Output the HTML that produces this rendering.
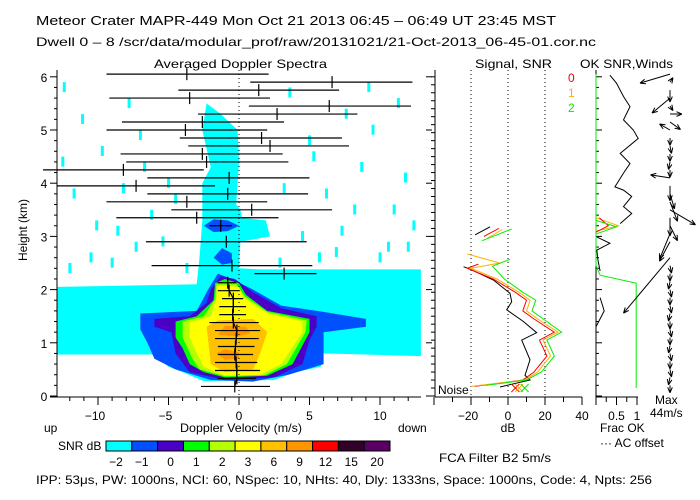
<!DOCTYPE html>
<html><head><meta charset="utf-8"><style>
body{margin:0;background:#fff}
svg{display:block}
text{font-family:"Liberation Sans",sans-serif;font-size:12px;fill:#000}
</style></head><body>
<svg id="c" width="700" height="500" viewBox="0 0 700 500" xmlns="http://www.w3.org/2000/svg">
<text x="36" y="25" style="font-size:13px" textLength="520" lengthAdjust="spacingAndGlyphs">Meteor Crater   MAPR-449   Mon Oct 21 2013 06:45 – 06:49 UT 23:45 MST</text>
<text x="36" y="46" textLength="560" lengthAdjust="spacingAndGlyphs">Dwell  0 –  8   /scr/data/modular_prof/raw/20131021/21-Oct-2013_06-45-01.cor.nc</text>
<text x="154" y="68" textLength="173" lengthAdjust="spacingAndGlyphs">Averaged Doppler Spectra</text>
<text x="475" y="68" textLength="77" lengthAdjust="spacingAndGlyphs">Signal, SNR</text>
<text x="580" y="68" textLength="93" lengthAdjust="spacingAndGlyphs">OK SNR,Winds</text>
<g id="spec"></g>
<g id="sig"></g>
<g id="wnd"></g>
<text x="27" y="230" transform="rotate(-90 27 230)" text-anchor="middle">Height (km)</text>
<text x="180" y="432" textLength="122" lengthAdjust="spacingAndGlyphs">Doppler Velocity (m/s)</text>
<text x="44" y="432">up</text>
<text x="398" y="432">down</text>
<text x="58" y="450">SNR dB</text>
<text x="508" y="432" text-anchor="middle">dB</text>
<text x="600" y="432">Frac OK</text>
<text x="600" y="447">··· AC offset</text>
<text x="655" y="404">Max</text>
<text x="650" y="417">44m/s</text>
<text x="439" y="462" textLength="112" lengthAdjust="spacingAndGlyphs">FCA Filter B2   5m/s</text>
<text x="36" y="484" textLength="616" lengthAdjust="spacingAndGlyphs">IPP:  53μs,   PW: 1000ns,   NCI:  60,   NSpec: 10, NHts: 40,   Dly: 1333ns,   Space: 1000ns,   Code: 4,   Npts: 256</text>
<text x="438" y="394">Noise</text>
<text x="568" y="82" style="fill:#ff0000">0</text>
<text x="568" y="97" style="fill:#ffb000">1</text>
<text x="568" y="112" style="fill:#00ee00">2</text>
<g id="cbar"></g>
</svg>
<script>
// ---------- data ----------
const cbLabels=["-2","-1","0","1","2","3","6","9","12","15","20"];
const cbColors=["#00ffff","#0050ff","#4b00c8","#00ff00","#b4ff00","#ffff00","#ffc000","#ff9600","#ff0000","#320028","#5a0064"];
const velTicks=[-10,-5,0,5,10];
const hTicks=[0,1,2,3,4,5,6];
const dbTicks=[-20,0,20,40];
// spectra moments rows: height, left edge, right edge, mean velocity
const rowH=[6.05,5.9,5.75,5.6,5.45,5.3,5.15,5.0,4.85,4.7,4.55,4.4,4.25,4.1,3.95,3.8,3.65,3.5,3.35,3.2,2.9,2.45,2.3,2.13,1.98,1.83,1.68,1.53,1.38,1.23,1.08,0.93,0.78,0.63,0.48,0.33,0.18];
const rowL=[-9.4,0.8,-4.3,-9.2,0.7,-2.9,-8.3,-9.4,-4.2,-3.6,-8.4,-8.0,-13.9,-6.5,-12.9,-6.5,-9.4,-4.8,-8.7,-2.1,-6.6,-6.2,1.1,-1.5,-1.5,-1.2,-1.4,-1.4,-2.1,-1.7,-1.7,-1.5,-1.5,-1.7,-1.7,-1.5,-2.7];
const rowR=[2.1,12.3,7.1,2.2,12.2,8.4,3.2,2.0,7.3,7.8,3.1,3.5,-2.5,5.0,-1.7,4.9,2.0,6.6,2.8,-0.5,4.8,5.2,5.5,-0.2,0.05,0.3,0.5,0.5,1.4,1.5,1.4,1.1,1.0,1.3,1.5,1.2,2.2];
const rowM=[-3.7,6.6,1.4,-3.5,6.4,2.7,-2.6,-3.8,1.6,2.2,-2.6,-2.3,-8.2,-0.7,-7.3,-0.8,-3.7,0.9,-3.0,-1.3,-0.9,-0.5,3.2,-0.8,-0.7,-0.4,-0.4,-0.45,-0.4,-0.15,-0.2,-0.25,-0.3,-0.2,-0.15,-0.15,-0.3];
// SNR contour polygons (velocity, height) pairs per level
const lvCyan=[[-12.9,0.78],[-12.9,2.05],[-3,2.1],[-2.8,2.6],[-2.6,3.3],[-2.6,4.0],[-2.0,4.3],[-2.6,5.0],[-2.3,5.5],[-1.3,5.3],[-0.1,5.0],[0,4.4],[-0.2,3.6],[0.1,3.5],[0.2,3.35],[1.9,3.3],[2.2,3.0],[0.1,2.9],[0,2.4],[1.5,2.38],[12.9,2.38],[12.9,0.75],[6,0.8],[5.8,0.55],[4,0.45],[2.5,0.3],[-2.5,0.28],[-4,0.45],[-5,0.55],[-6,0.78]];
const lvBlue=[[-7,1.25],[-7,1.55],[-3,1.6],[-2.5,1.85],[-2.2,2.0],[-1.5,2.3],[-0.5,2.2],[1,2.0],[3,1.7],[6,1.58],[9,1.45],[9,1.3],[6,1.2],[6,0.6],[3.5,0.4],[1,0.27],[-2,0.3],[-4.5,0.5],[-6,0.7],[-6.5,1.0]];
const lvBlue2=[[-2.5,3.2],[-1.8,3.32],[-0.8,3.3],[0,3.2],[-0.8,3.1],[-1.8,3.08]];
const lvBlue3=[[-1.8,2.6],[-1.2,2.78],[-0.5,2.68],[-0.5,2.5],[-1.2,2.47]];
const lvPurple=[[-6,1.3],[-6,1.45],[-3.5,1.5],[-2.3,1.75],[-2,2.0],[-1.3,2.25],[-0.3,2.2],[1,1.95],[3,1.65],[5.5,1.5],[5.5,1.3],[5,1.05],[4.5,0.6],[2.5,0.35],[-1,0.3],[-3.5,0.45],[-4.5,0.8],[-4.8,1.2]];
const lvGreen=[[-4.5,1.1],[-4.5,1.4],[-3,1.5],[-1.8,1.8],[-1.7,2.12],[-1,2.2],[0,2.12],[0.5,1.9],[2,1.6],[5,1.45],[5,1.2],[3.8,0.6],[2,0.38],[-1,0.35],[-2.5,0.45],[-3.5,0.6],[-4,0.9]];
const lvYG=[[-4,1.1],[-4,1.4],[-2.5,1.5],[-1.7,1.82],[-1.6,2.1],[-0.2,2.1],[0.4,1.88],[2,1.58],[4.8,1.42],[4.7,1.2],[3.4,0.6],[1.8,0.39],[-1,0.37],[-2.8,0.5],[-3.3,0.7]];
const lvYellow=[[-3.5,1.1],[-3.5,1.38],[-2,1.5],[-1.6,1.85],[-1.5,2.08],[0,2.05],[0.3,1.85],[2,1.55],[4.5,1.4],[4.5,1.2],[3,0.6],[1.5,0.4],[-1,0.38],[-2.5,0.55],[-3,0.8]];
const lvOY=[[-2,0.6],[-2.3,1.3],[-1.5,1.42],[1,1.45],[2,1.2],[1.5,0.8],[1,0.5],[-1,0.45]];
const lvOrange=[[-1.5,1.15],[-1,1.32],[0.5,1.3],[0.8,1.18],[0,1.12]];
const lvOrange2=[[-1.6,0.8],[-1,0.88],[0,0.82],[0,0.7],[-1,0.68]];
// scattered cyan specks above (velocity, height)
const speckV=[-12.5,-11.2,-9.8,-8.7,-7.4,-6.3,-5.1,-10.6,-7.9,-4.6,3.5,5.2,6.8,8.1,9.4,10.5,11.7,12.3,4.4,7.5,-11.8,-9.1,-6.8,-5.5,2.8,6.1,9.9,11.2,-12.1,-8.3,-3.8,4.9,8.6,10.9,-10.2,-7.1,3.1,7.2,11.9,-12.6,5.6,9.1];
const speckH=[5.9,5.3,4.7,3.2,2.9,3.5,4.1,2.7,5.6,3.8,5.8,4.6,2.8,3.6,5.1,2.9,4.2,3.3,3.1,5.4,3.9,2.6,4.4,3.0,2.6,3.9,2.7,5.6,2.5,4.0,2.5,4.9,4.4,3.6,3.3,5.0,4.0,3.2,2.9,4.5,2.7,5.9];
// signal panel (height km, dB)
const blkH=[2.43,2.37,2.18,1.93,1.77,1.62,1.40,1.19,1.05,0.68,0.39,0.30,0.17];
const blkDB=[-24,-19.6,-7.9,1.1,2.0,-0.7,8.3,15.5,7.4,11.9,9.2,11.9,-4.3];
const redH=[2.48,2.40,2.2,1.95,1.8,1.6,1.45,1.2,1.05,0.75,0.45,0.3,0.18];
const redDB=[-16,-22,-8,4,10,8,14,25,17,21,14,8,-18];
const orgH=[2.67,2.5,2.40,2.2,1.95,1.8,1.6,1.45,1.2,1.05,0.75,0.45,0.3,0.18];
const orgDB=[-22,-4.5,-20,-6,6,12,10,16,27,19,23,16,9,-20];
const grnH=[2.57,2.44,2.2,1.95,1.8,1.6,1.45,1.2,1.05,0.75,0.45,0.3,0.2];
const grnDB=[1,-8.4,-2,8,15,13,19,29,21,25,18,10,-12];
const segH=[[3.03,3.18],[3.0,3.15],[2.97,3.13],[2.92,3.14]];
const segDB=[[-17.8,-9.7],[-13,-5],[-11,-3],[-14,2]];
const segCol=["#000","#ff0000","#ffb000","#00ee00"];
// frac OK / SNR panel
const okH=[6.03,5.88,5.63,5.44,5.19,5.0,4.84,4.56,4.37,4.19,3.93,3.87,3.75,3.56,3.43,3.24];
const okF=[0.34,0.5,0.67,0.83,0.67,0.91,1.03,0.59,0.83,0.67,0.46,0.67,0.87,0.67,0.87,0.59];
const ok2H=[2.99,2.87,2.74,2.55,2.35];
const ok2F=[0.02,0.34,0.02,0.05,0.1];
const fracH=[6.05,2.45,2.27,2.12,0.15];
const fracV=[0,0,0.1,0.98,0.98];
// winds (height, u, v) m/s
const wH=[6.05,5.9,5.75,5.6,5.45,5.3,5.15,5.0,4.85,4.7,4.55,4.4,4.25,4.1,3.95,3.8,3.65,3.5,3.35,3.2,3.05,2.9,2.6,2.45,2.3,2.15,2.0,1.85,1.7,1.55,1.4,1.25,1.1,0.95,0.8,0.65,0.5,0.35,0.2];
const wU=[-20,2,0,-12,2,8,7,-7,0,1,0,-1,0,-13,0,3,5,17,0,5,-7,-7,-31,1,0,-1,1,0,1,-1,0,1,0,-1,1,0,1,-1,0];
const wV=[-6,3,-8,-10,-3,0,-5,4,-5,-5,-5,-5,-5,2,-10,-10,-13,-10,-12,-10,-17,-13,-37,-5,-5,-5,-5,-5,-5,-5,-5,-5,-5,-5,-5,-5,-5,-5,-5];

// ---------- helpers ----------
const NS="http://www.w3.org/2000/svg";
function el(tag,attrs,parent){const e=document.createElementNS(NS,tag);for(const k in attrs)e.setAttribute(k,attrs[k]);parent.appendChild(e);return e;}
const Y0=396,KM=53.2;
function yH(h){return Y0-h*KM;}
function xV(v){return 239+v*14.1;}
function xDB(d){return 508+d*1.85;}
function xF(f){return 596+f*41;}
const spec=document.getElementById('spec'),sig=document.getElementById('sig'),wnd=document.getElementById('wnd'),cbar=document.getElementById('cbar');

// ---------- spectra panel ----------
const clip=el('clipPath',{id:'spc'},el('defs',{},spec));
el('rect',{x:57,y:70,width:364,height:326},clip);
const field=el('g',{'clip-path':'url(#spc)'},spec);
function poly(pts,col,name){const p=el('polygon',{points:pts.map(q=>xV(q[0]).toFixed(1)+','+yH(q[1]).toFixed(1)).join(' '),fill:col},field);

}
for(let i=0;i<speckV.length;i++){const r=el('rect',{x:xV(speckV[i]),y:yH(speckH[i]),width:3,height:10,fill:cbColors[0]},field);

}
poly(lvCyan,cbColors[0],'snr-contour-m2');
poly(lvBlue,cbColors[1],'snr-contour-m1');
poly(lvBlue2,cbColors[1],'snr-blob-3km');
poly(lvBlue3,cbColors[1],'snr-blob-2-6km');
poly(lvPurple,cbColors[2],'snr-contour-0');
poly(lvGreen,cbColors[3],'snr-contour-1');
poly(lvYG,cbColors[4],'snr-contour-2');
poly(lvYellow,cbColors[5],'snr-contour-3');
poly(lvOY,cbColors[6],'snr-contour-6');
poly(lvOrange,cbColors[7],'snr-contour-9');
poly(lvOrange2,cbColors[7],'snr-contour-9b');
el('line',{x1:xV(0),y1:70,x2:xV(0),y2:396,stroke:'#000','stroke-dasharray':'1,3'},spec);
for(let i=0;i<rowH.length;i++){const y=yH(rowH[i]);
const l=el('line',{x1:Math.max(xV(rowL[i]),42),y1:y,x2:xV(rowR[i]),y2:y,stroke:'#000','stroke-width':1.2},spec);


const t=el('line',{x1:xV(rowM[i]),y1:y-6,x2:xV(rowM[i]),y2:y+6,stroke:'#000','stroke-width':1.2},spec);

}
{const pts=[];for(let i=0;i<rowH.length;i++)if(rowH[i]<2.2)pts.push(xV(rowM[i])+','+yH(rowH[i]));
const p=el('polyline',{points:pts.join(' '),fill:'none',stroke:'#000','stroke-width':1.2},spec);

}
// axes
el('line',{x1:57,y1:70,x2:57,y2:397,stroke:'#000'},spec);
el('line',{x1:50,y1:397,x2:421,y2:397,stroke:'#000'},spec);
for(let h=0;h<=6.01;h+=0.2){el('line',{x1:h%1<0.01||h%1>0.99?50:54,y1:yH(h),x2:57,y2:yH(h),stroke:'#000'},spec);}
hTicks.forEach(h=>{el('line',{x1:426,y1:yH(h),x2:432,y2:yH(h),stroke:'#000'},spec);
const t=el('text',{x:44,y:yH(h)+5,'text-anchor':'middle'},spec);t.textContent=h;

});
for(let v=-12;v<=12;v++){el('line',{x1:xV(v),y1:397,x2:xV(v),y2:v%5===0?405:401,stroke:'#000'},spec);}
velTicks.forEach(v=>{const t=el('text',{x:xV(v)-(v<0?3:0),y:420,'text-anchor':'middle'},spec);t.textContent=v<0?'−'+(-v):v;

});

// ---------- signal panel ----------
[-20,0,20].forEach(d=>el('line',{x1:xDB(d),y1:70,x2:xDB(d),y2:396,stroke:'#000','stroke-dasharray':'1,3'},sig));
el('line',{x1:435,y1:70,x2:435,y2:397,stroke:'#000'},sig);
el('line',{x1:435,y1:397,x2:582,y2:397,stroke:'#000'},sig);
for(let h=0;h<=6.01;h+=0.15)el('line',{x1:431,y1:yH(h),x2:435,y2:yH(h),stroke:'#000'},sig);
for(let d=-40;d<=40;d+=10)el('line',{x1:xDB(d),y1:397,x2:xDB(d),y2:d%20===0?405:402,stroke:'#000'},sig);
dbTicks.forEach(d=>{const t=el('text',{x:xDB(d)-(d<0?3:0),y:420,'text-anchor':'middle'},sig);t.textContent=d<0?'−'+(-d):d;

});
function line(H,D,col,name,par,fx){const p=el('polyline',{points:H.map((h,i)=>fx(D[i]).toFixed(1)+','+yH(h).toFixed(1)).join(' '),fill:'none',stroke:col,'stroke-width':1},par);

}
line(blkH,blkDB,'#000','noise-signal-line',sig,xDB);
line(redH,redDB,'#ff0000','snr-line-0',sig,xDB);
line(orgH,orgDB,'#ffb000','snr-line-1',sig,xDB);
line(grnH,grnDB,'#00ee00','snr-line-2',sig,xDB);
segH.forEach((s,i)=>line(s,segDB[i],segCol[i],'snr-segment',sig,xDB));
[[4,'#ff0000'],[6,'#ffb000'],[9,'#00ee00']].forEach(q=>{const x=xDB(q[0]);
el('path',{d:`M${x-4},${yH(0.15)-4}L${x+4},${yH(0.15)+4}M${x-4},${yH(0.15)+4}L${x+4},${yH(0.15)-4}`,stroke:q[1],fill:'none'},sig);});

// ---------- winds panel ----------
el('line',{x1:596,y1:70,x2:596,y2:397,stroke:'#000'},wnd);
el('line',{x1:596,y1:397,x2:638,y2:397,stroke:'#000'},wnd);
for(let h=0;h<=6.01;h+=0.2)el('line',{x1:596,y1:yH(h),x2:h%1<0.01||h%1>0.99?602:599,y2:yH(h),stroke:'#000'},wnd);
for(let f=0;f<=1.001;f+=0.25)el('line',{x1:xF(f),y1:397,x2:xF(f),y2:f%0.5===0?405:402,stroke:'#000'},wnd);
[[0.5,'0.5'],[1,'1']].forEach(q=>{const t=el('text',{x:xF(q[0]),y:420,'text-anchor':'middle'},wnd);t.textContent=q[1];

});
line(fracH,fracV,'#00ee00','frac-ok-line',wnd,xF);
line([3.35,3.2,3.1],[0,0.55,0],'#ffb000','frac-spike-1',wnd,xF);
line([3.35,3.2,3.08],[0.08,0.3,0],'#ff0000','frac-spike-0',wnd,xF);
line([3.3,3.18,3.05],[0,0.5,0.02],'#00ee00','frac-spike-2',wnd,xF);
line(okH,okF,'#000','ok-snr-line',wnd,xF);
line(ok2H,ok2F,'#000','ok-snr-line-low',wnd,xF);
line([1.85,1.6,1.3],[0.1,0.2,0.0],'#000','ok-snr-line-mid',wnd,xF);
const WX=670,WS=1.5;
for(let i=0;i<wH.length;i++){const x0=WX,y0=yH(wH[i]),x1=x0+wU[i]*WS,y1=y0-wV[i]*WS;
const a=Math.atan2(y1-y0,x1-x0),L=6;
const g=el('path',{d:`M${x0},${y0}L${x1},${y1}M${x1},${y1}L${x1-L*Math.cos(a-0.4)},${y1-L*Math.sin(a-0.4)}M${x1},${y1}L${x1-L*Math.cos(a+0.4)},${y1-L*Math.sin(a+0.4)}`,stroke:'#000',fill:'none'},wnd);

}

// ---------- colorbar ----------
const cw=(390-106)/cbColors.length;
cbColors.forEach((c,i)=>{const r=el('rect',{x:106+i*cw,y:441,width:cw,height:10,fill:c,stroke:'#000'},cbar);


const t=el('text',{x:106+i*cw+cw/2-(i<2?3:0),y:466,'text-anchor':'middle'},cbar);t.textContent=cbLabels[i].replace('-','−');

});
</script>
</body></html>
